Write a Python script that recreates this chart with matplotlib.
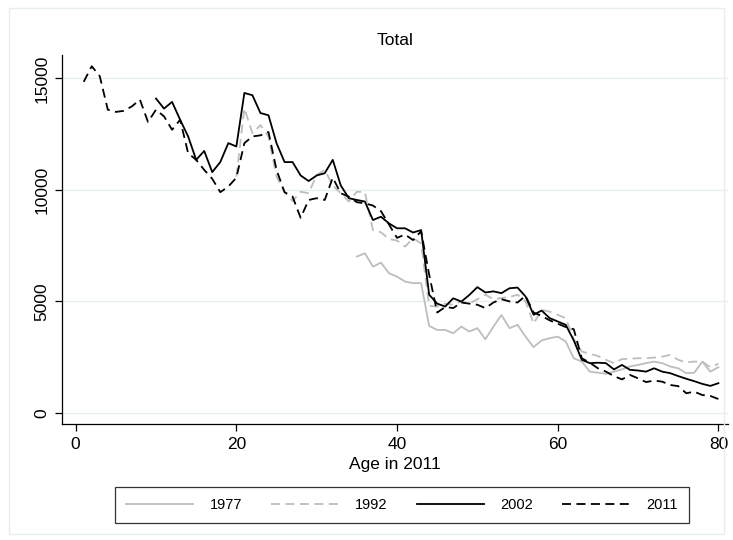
import matplotlib.pyplot as plt
from matplotlib.patches import Rectangle

plt.rcParams['font.family'] = ['Liberation Sans', 'DejaVu Sans']

# values, one entry per age in 2011
ages_1977 = list(range(35, 81))
total_1977 = [7010, 7160, 6560, 6740, 6260, 6110, 5890, 5820, 5820, 3900,
              3720, 3720, 3570, 3870, 3650, 3800, 3300, 3870, 4390, 3800,
              3950, 3420, 2950, 3250, 3350, 3420, 3200, 2450, 2300, 1850,
              1800, 1750, 1850, 1950, 2080, 2150, 2230, 2300, 2230, 2080,
              2000, 1780, 1800, 2300, 1850, 2050]

ages_1992 = list(range(20, 81))
total_1992 = [10600, 13660, 12540, 12910, 12390, 10600, 9900, 9500, 9920, 9850,
              10670, 10900, 10200, 9850, 9480, 9920, 9900, 8200, 8100, 7800,
              7730, 7460, 7830, 7600, 4800, 4770, 4900, 4850, 5000, 4900,
              5100, 5300, 5100, 5150, 5200, 5300, 5000, 4000, 4620, 4540,
              4400, 4250, 3300, 2750, 2650, 2550, 2380, 2230, 2410, 2430,
              2450, 2450, 2480, 2520, 2600, 2380, 2260, 2300, 2300, 2050,
              2200]

ages_2002 = list(range(10, 81))
total_2002 = [14100, 13650, 13950, 13150, 12400, 11350, 11750, 10800, 11250, 12100,
              11950, 14350, 14250, 13450, 13350, 12100, 11250, 11250, 10650, 10400,
              10650, 10750, 11350, 10200, 9630, 9550, 9480, 8650, 8800, 8500,
              8280, 8280, 8090, 8200, 5300, 4900, 4770, 5140, 4990, 5290,
              5640, 5400, 5450, 5370, 5590, 5620, 5220, 4400, 4590, 4250,
              4100, 3950, 3250, 2380, 2230, 2250, 2230, 1950, 2150, 1930,
              1900, 1850, 2000, 1850, 1780, 1650, 1530, 1420, 1300, 1210,
              1330]

ages_2011 = list(range(1, 81))
total_2011 = [14850, 15550, 15100, 13600, 13500, 13550, 13750, 14050, 13050, 13600,
              13300, 12700, 13150, 11650, 11350, 10900, 10500, 9900, 10150, 10550,
              12100, 12400, 12450, 12600, 10900, 9900, 9700, 8750, 9550, 9630,
              9550, 10550, 9850, 9700, 9450, 9400, 9300, 9050, 8450, 7850,
              8000, 7750, 8150, 6200, 4500, 4750, 4700, 4950, 4900, 4850,
              4700, 4950, 5100, 5000, 4950, 5250, 4500, 4350, 4150, 4000,
              3850, 3750, 2450, 2250, 2000, 1850, 1650, 1500, 1700, 1550,
              1380, 1450, 1400, 1250, 1200, 880, 950, 800, 760, 620]

years = ['1977', '1992', '2002', '2011']
grey = '#bdbdbd'

fig = plt.figure(figsize=(7.33, 5.40), dpi=100)
fig.patches.append(Rectangle((0.012, 0.012), 0.976, 0.974, transform=fig.transFigure,
                             fill=False, edgecolor='#e6eef1', linewidth=1.0))
ax = fig.add_axes([0.0846, 0.2148, 0.9086, 0.6832])

ax.plot(ages_1977, total_1977, color=grey, lw=1.3, label=years[0])
ax.plot(ages_1992, total_1992, color=grey, lw=1.3, ls=(0, (5, 3)), label=years[1])
ax.plot(ages_2002, total_2002, color='black', lw=1.3, label=years[2])
ax.plot(ages_2011, total_2011, color='black', lw=1.3, ls=(0, (5, 3)), label=years[3])

ax.set_xlim(-1.7, 81.2)
ax.set_ylim(-500, 16050)
ax.set_xticks([0, 20, 40, 60, 80])
ax.set_yticks([0, 5000, 10000, 15000])
ax.set_yticklabels(['0', '5000', '10000', '15000'], rotation=90, va='center')
ax.grid(axis='y', color='#e6eef1', lw=1.0)
ax.set_axisbelow(True)
for side in ['top', 'right']:
    ax.spines[side].set_visible(False)
ax.spines['left'].set_linewidth(0.9)
ax.spines['bottom'].set_linewidth(0.9)
ax.tick_params(labelsize=12.5, length=5, width=0.9, pad=4)

ax.set_xlabel('Age in 2011', fontsize=12.5, labelpad=4)
ax.set_title('Total', fontsize=12.5, pad=7)

leg = fig.legend(loc='center', bbox_to_anchor=(0.548, 0.065), ncol=4,
                 frameon=True, fancybox=False, edgecolor='black', fontsize=10.5,
                 handlelength=4.6, columnspacing=2.0, handletextpad=1.15,
                 borderpad=0.75)
leg.get_frame().set_linewidth(0.9)

fig.savefig('out.png', dpi=100)
